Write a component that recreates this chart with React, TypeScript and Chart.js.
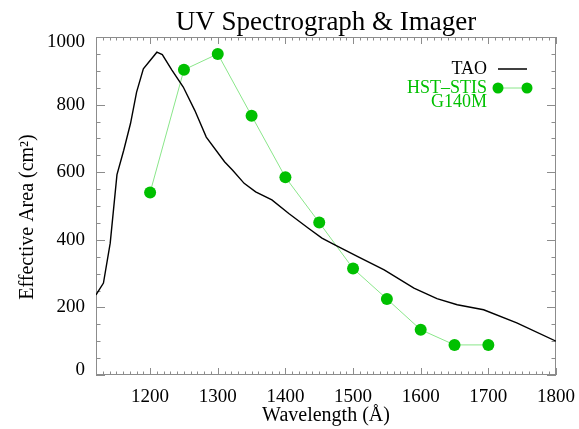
import React, { useEffect, useRef } from 'react';
import { Chart, registerables } from 'chart.js';

Chart.register(...registerables);

const chartTitle = 'UV Spectrograph & Imager';
const xTitle = 'Wavelength (Å)';
const yTitle = 'Effective Area (cm²)';

const xTickValues = [1200, 1300, 1400, 1500, 1600, 1700, 1800];
const yTickValues = [0, 200, 400, 600, 800, 1000];

const taoWavelength = [1120, 1131, 1141, 1151, 1161, 1171, 1180, 1190, 1210, 1218, 1232, 1249, 1266, 1283, 1310, 1322, 1339, 1356, 1380, 1405, 1434, 1454, 1473, 1507, 1546, 1590, 1624, 1654, 1693, 1742, 1800];
const taoArea = [237, 272, 390, 593, 665, 744, 837, 906, 955, 948, 903, 852, 783, 704, 631, 606, 567, 542, 518, 478, 434, 405, 385, 350, 311, 257, 226, 208, 193, 154, 100];

const stisWavelength = [1200, 1250, 1300, 1350, 1400, 1450, 1500, 1550, 1600, 1650, 1700];
const stisArea = [540, 903, 950, 767, 585, 451, 315, 225, 134, 89, 89];

const SERIF = '"Liberation Serif", "Times New Roman", serif';
const AXIS_GRAY = '#8c8c8c';
const GREEN = '#00c000';
const LIGHT_GREEN = '#8ae68a';

const framePlugin = {
  id: 'idlFrame',
  beforeDatasetsDraw(chart: any) {
    const { ctx, chartArea } = chart;
    const { left, right, top, bottom } = chartArea;
    const xs = chart.scales.x;
    const ys = chart.scales.y;
    ctx.save();
    ctx.strokeStyle = AXIS_GRAY;
    ctx.lineWidth = 1;
    ctx.strokeRect(left + 0.5, top + 0.5, right - left - 1, bottom - top - 1);
    ctx.beginPath();
    for (let v = 1120; v <= 1800; v += 10) {
      const px = Math.round(xs.getPixelForValue(v)) + 0.5;
      const len = v % 100 === 0 ? 7 : 3.5;
      ctx.moveTo(px, bottom);
      ctx.lineTo(px, bottom - len);
      ctx.moveTo(px, top);
      ctx.lineTo(px, top + len);
    }
    for (let v = 0; v <= 1000; v += 50) {
      const py = Math.round(ys.getPixelForValue(v)) + 0.5;
      const len = v % 200 === 0 ? 9 : 4.5;
      ctx.moveTo(left, py);
      ctx.lineTo(left + len, py);
      ctx.moveTo(right, py);
      ctx.lineTo(right - len, py);
    }
    ctx.stroke();
    ctx.restore();
  },
  afterDraw(chart: any) {
    const { ctx, chartArea } = chart;
    ctx.save();
    // Title
    ctx.fillStyle = '#000';
    ctx.font = `27px ${SERIF}`;
    ctx.textAlign = 'center';
    ctx.textBaseline = 'alphabetic';
    ctx.fillText(chartTitle, (chartArea.left + chartArea.right) / 2, 30);

    // Y axis title
    ctx.save();
    ctx.font = `20px ${SERIF}`;
    ctx.translate(33, (chartArea.top + chartArea.bottom) / 2 + 11);
    ctx.rotate(-Math.PI / 2);
    ctx.textAlign = 'center';
    ctx.fillText(yTitle, 0, 0);
    ctx.restore();

    // Legend
    const textRight = 487;
    const sampleL = 498;
    const sampleR = 527;
    ctx.font = `18px ${SERIF}`;
    ctx.textAlign = 'right';
    ctx.fillStyle = '#000';
    ctx.fillText(chart.data.datasets[0].label, textRight, 74);
    ctx.strokeStyle = '#000';
    ctx.lineWidth = 1.5;
    ctx.beginPath();
    ctx.moveTo(sampleL, 69);
    ctx.lineTo(sampleR, 69);
    ctx.stroke();

    const stisLabel: string[] = chart.data.datasets[1].label.split('\n');
    ctx.fillStyle = GREEN;
    ctx.fillText(stisLabel[0], textRight, 93);
    ctx.fillText(stisLabel[1], textRight, 107);
    ctx.strokeStyle = LIGHT_GREEN;
    ctx.lineWidth = 1;
    ctx.beginPath();
    ctx.moveTo(sampleL, 88);
    ctx.lineTo(sampleR, 88);
    ctx.stroke();
    ctx.fillStyle = GREEN;
    [sampleL, sampleR].forEach((x) => {
      ctx.beginPath();
      ctx.arc(x, 88, 5.5, 0, Math.PI * 2);
      ctx.fill();
    });
    ctx.restore();
  },
};

export default function App() {
  const canvasRef = useRef<HTMLCanvasElement | null>(null);

  useEffect(() => {
    document.body.style.margin = '0';
    const canvas = canvasRef.current;
    if (!canvas) return;
    const tickFont = { family: SERIF, size: 19 };
    const yMax = yTickValues[yTickValues.length - 1];
    const yMin = yTickValues[0];
    const chart = new Chart(canvas, {
      type: 'line',
      data: {
        datasets: [
          {
            label: 'TAO',
            data: taoWavelength.map((x, i) => ({ x, y: taoArea[i] })),
            borderColor: '#000',
            borderWidth: 1.4,
            pointRadius: 0,
            tension: 0,
            fill: false,
          },
          {
            label: 'HST–STIS\nG140M',
            data: stisWavelength.map((x, i) => ({ x, y: stisArea[i] })),
            borderColor: LIGHT_GREEN,
            borderWidth: 1,
            pointRadius: 6,
            pointBackgroundColor: GREEN,
            pointBorderColor: GREEN,
            pointBorderWidth: 0,
            tension: 0,
            fill: false,
          },
        ],
      },
      options: {
        animation: false,
        responsive: false,
        devicePixelRatio: 1,
        layout: { padding: { top: 37, right: 23, bottom: 0, left: 0 } },
        plugins: {
          legend: { display: false },
          title: { display: false },
          tooltip: { enabled: false },
        },
        scales: {
          x: {
            type: 'linear',
            min: 1120,
            max: 1800,
            afterBuildTicks: (s: any) => {
              s.ticks = xTickValues.map((value) => ({ value }));
            },
            afterFit: (s: any) => {
              s.height = 54;
              s.paddingLeft = 0;
              s.paddingRight = 0;
            },
            grid: { display: false, drawTicks: false },
            border: { display: false },
            ticks: {
              font: tickFont,
              color: '#000',
              padding: 11,
              maxRotation: 0,
              autoSkip: false,
              callback: (v: any) => String(v),
            },
            title: {
              display: true,
              text: xTitle,
              font: { family: SERIF, size: 20 },
              color: '#000',
              padding: { top: 0, bottom: 1 },
            },
          },
          y: {
            type: 'linear',
            min: yMin,
            max: yMax,
            afterBuildTicks: (s: any) => {
              s.ticks = yTickValues.map((value) => ({ value }));
            },
            afterFit: (s: any) => {
              s.width = 96;
              s.paddingTop = 0;
              s.paddingBottom = 0;
            },
            grid: { display: false, drawTicks: false },
            border: { display: false },
            ticks: {
              font: (c: any) => {
                const v = c.tick ? c.tick.value : null;
                if (v === yMax) return { family: SERIF, size: 19, lineHeight: '11px' };
                if (v === yMin) return { family: SERIF, size: 19, lineHeight: '9px' };
                return tickFont;
              },
              color: '#000',
              padding: 11,
              autoSkip: false,
              callback: (v: any) => {
                if (v === yMax) return ['', String(v)];
                if (v === yMin) return [String(v), ''];
                return String(v);
              },
            },
            title: { display: false },
          },
        },
      },
      plugins: [framePlugin],
    } as any);
    return () => chart.destroy();
  }, []);

  return (
    <div style={{ width: 579, height: 429 }}>
      <canvas ref={canvasRef} width={579} height={429} style={{ display: 'block' }} />
    </div>
  );
}
